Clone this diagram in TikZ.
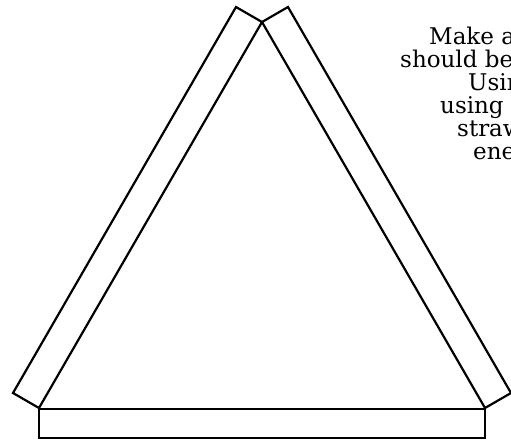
\documentclass[tikz,border=0pt]{standalone}
\usepackage{fontspec}
\setmainfont{DejaVu Serif}
\begin{document}
\begin{tikzpicture}[x=1pt,y=-1pt,
  strip/.style={draw=black,line width=2.2pt,line join=miter,fill=white},
  txt/.style={anchor=base west,inner sep=0pt,font=\fontsize{23}{23}\selectfont}]
\useasboundingbox (0,0) rectangle (511,440);
\clip (0,0) rectangle (511,440);
% left strip
\coordinate (L1) at (39,408);
\coordinate (L2) at (262,22);
\coordinate (L3) at (236,7);
\coordinate (L4) at (13,393);
% right strip
\coordinate (R1) at (485,408);
\coordinate (R2) at (262,22);
\coordinate (R3) at (288,7);
\coordinate (R4) at (511,393);
\draw[strip] (L1) -- (L2) -- (L3) -- (L4) -- cycle;
\draw[strip] (R1) -- (R2) -- (R3) -- (R4) -- cycle;
% bottom strip
\coordinate (B1) at (39,409);
\coordinate (B2) at (485,438);
\draw[strip] (B1) rectangle (B2);
% text
\node[txt] (t1) at (429,44) {Make a};
\node[txt] (t2) at (400,67) {should be};
\node[txt] (t3) at (468,90) {Usin};
\node[txt] (t4) at (440,113) {using a};
\node[txt] (t5) at (457,136) {straw};
\node[txt] (t6) at (473,159) {ene};
\end{tikzpicture}
\end{document}
